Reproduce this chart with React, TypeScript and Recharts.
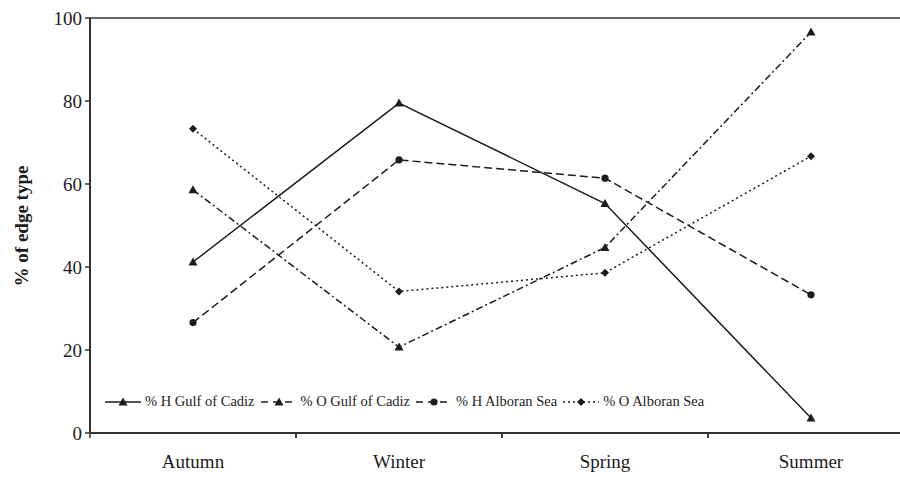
import React from "react";
import { LineChart, Line, XAxis, YAxis, ReferenceLine, Label } from "recharts";

const seasons = ["Autumn", "Winter", "Spring", "Summer"];
const hGulf = [41.2, 79.5, 55.3, 3.6];
const oGulf = [58.6, 20.7, 44.7, 96.6];
const hAlboran = [26.6, 65.8, 61.4, 33.3];
const oAlboran = [73.3, 34.1, 38.6, 66.7];
const yTicks = [0, 20, 40, 60, 80, 100];

const INK = "#1c1c1c";
const AXIS = "#333";
const FONT = "'Liberation Serif', 'Times New Roman', serif";

const data = seasons.map((s, i) => ({
  season: s,
  hGulf: hGulf[i],
  oGulf: oGulf[i],
  hAlboran: hAlboran[i],
  oAlboran: oAlboran[i],
}));

type Marker = "triangle" | "circle" | "diamond";

function markerShape(kind: Marker, cx: number, cy: number) {
  if (kind === "triangle")
    return <path d={`M${cx},${cy - 4.5} L${cx + 4.5},${cy + 3.5} L${cx - 4.5},${cy + 3.5} Z`} fill={INK} />;
  if (kind === "circle") return <circle cx={cx} cy={cy} r={3.6} fill={INK} />;
  return <path d={`M${cx},${cy - 4} L${cx + 4},${cy} L${cx},${cy + 4} L${cx - 4},${cy} Z`} fill={INK} />;
}

const series = [
  { key: "hGulf", name: "% H Gulf of Cadiz", dash: undefined, marker: "triangle" as Marker },
  { key: "oGulf", name: "% O Gulf of Cadiz", dash: "7 3 2 3", marker: "triangle" as Marker },
  { key: "hAlboran", name: "% H Alboran Sea", dash: "8 4", marker: "circle" as Marker },
  { key: "oAlboran", name: "% O Alboran Sea", dash: "2 3", marker: "diamond" as Marker },
];

function SeasonTick(props: any) {
  const { x, y, payload } = props;
  const half = payload?.offset || 103;
  return (
    <g>
      <line x1={x - half} y1={y} x2={x - half} y2={y + 5} stroke={AXIS} strokeWidth={1.5} />
      <line x1={x + half} y1={y} x2={x + half} y2={y + 5} stroke={AXIS} strokeWidth={1.5} />
      <text x={x} y={y + 35} textAnchor="middle" fontFamily={FONT} fontSize={19} fill={INK}>
        {payload.value}
      </text>
    </g>
  );
}

function LegendBox() {
  return (
    <div
      style={{
        position: "absolute",
        left: 104,
        top: 393,
        display: "flex",
        alignItems: "center",
        fontFamily: FONT,
        fontSize: 14.5,
        color: INK,
        whiteSpace: "nowrap",
      }}
    >
      {series.map((s) => (
        <div key={s.key} style={{ display: "flex", alignItems: "center", marginRight: 5 }}>
          <svg width={38} height={12}>
            <line
              x1={1}
              y1={6}
              x2={37}
              y2={6}
              stroke={INK}
              strokeWidth={1.5}
              strokeDasharray={s.dash === "2 3" ? "2 3" : s.dash ? "7 5" : undefined}
            />
            {markerShape(s.marker, 19, 6)}
          </svg>
          <span style={{ marginLeft: 3 }}>{s.name}</span>
        </div>
      ))}
    </div>
  );
}

export default function App() {
  return (
    <div style={{ position: "absolute", left: 0, top: 0, width: 900, height: 477, overflow: "hidden", background: "#fff" }}>
      <LineChart width={920} height={477} data={data} margin={{ top: 18, right: 6, bottom: 0, left: 0 }}>
        <XAxis
          dataKey="season"
          scale="band"
          height={44}
          tickLine={false}
          tickSize={0}
          tickMargin={0}
          axisLine={{ stroke: AXIS, strokeWidth: 2 }}
          tick={<SeasonTick />}
          interval={0}
        />
        <YAxis
          domain={[0, 100]}
          ticks={yTicks}
          width={90}
          tickSize={5}
          tickMargin={3}
          axisLine={{ stroke: AXIS, strokeWidth: 2 }}
          tickLine={{ stroke: AXIS, strokeWidth: 1.5 }}
          tick={{ fontFamily: FONT, fontSize: 19, fill: INK }}
        >
          <Label
            content={() => (
              <text
                x={28}
                y={226}
                transform="rotate(-90 28 226)"
                textAnchor="middle"
                fontFamily={FONT}
                fontSize={19}
                fontWeight="bold"
                fill={INK}
              >
                % of edge type
              </text>
            )}
          />
        </YAxis>
        <ReferenceLine y={100} stroke={AXIS} strokeWidth={1.5} />
        {series.map((s) => (
          <Line
            key={s.key}
            dataKey={s.key}
            name={s.name}
            stroke={INK}
            strokeWidth={1.5}
            strokeDasharray={s.dash}
            isAnimationActive={false}
            dot={(p: any) => <g key={`${s.key}-${p.index}`}>{markerShape(s.marker, p.cx, p.cy)}</g>}
            activeDot={false}
          />
        ))}
      </LineChart>
      <LegendBox />
    </div>
  );
}
